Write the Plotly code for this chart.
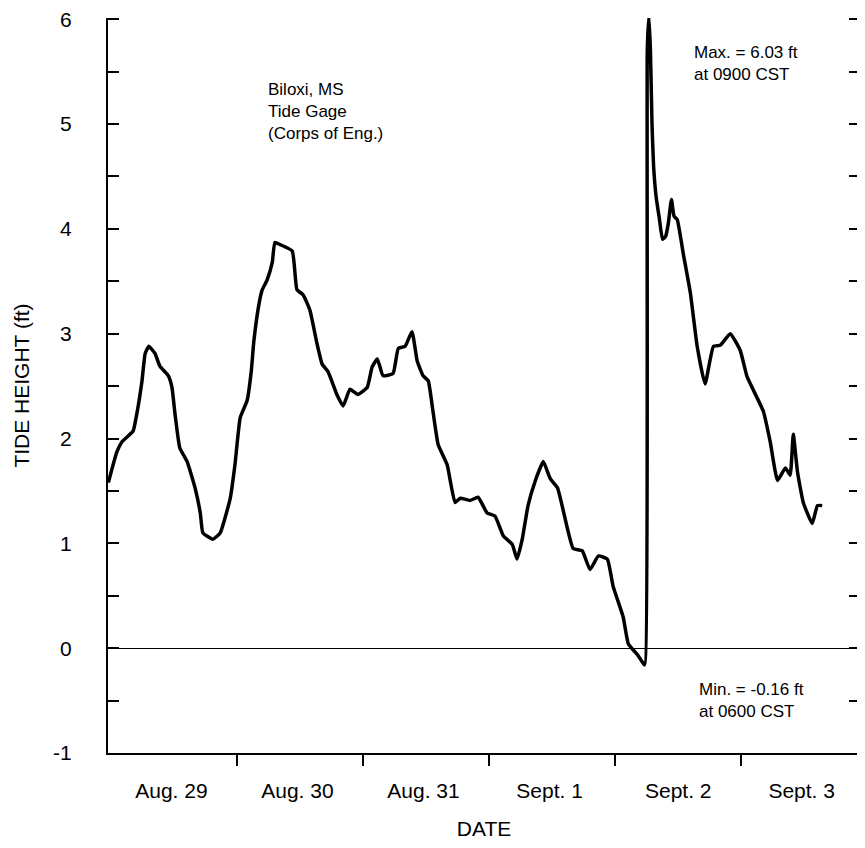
import plotly.graph_objects as go

# Hours since Aug. 29 00:00 CST
hours = [-0.5, 1.1, 2.1, 4.2, 5.0, 5.9, 6.5, 7.2, 8.4, 9.3, 10.9, 11.6, 12.2, 13.1, 14.5,
         16.0, 17.0, 17.5, 19.4, 20.8, 22.7, 23.6, 24.6, 25.9, 26.7, 27.2, 28.2, 28.8, 29.7,
         30.7, 31.2, 32.2, 34.5, 35.4, 36.6, 37.9, 39.2, 40.2, 41.3, 43.0, 44.2, 45.5, 47.0,
         48.8, 49.7, 50.7, 51.8, 53.7, 54.7, 56.0, 57.3, 58.3, 59.4, 60.4, 61.3, 62.3, 64.0,
         65.5, 66.5, 68.4, 69.9, 71.6, 73.1, 74.7, 76.4, 77.3, 78.3, 79.4, 80.8, 82.3, 83.6,
         85.0, 86.9, 88.0, 89.7, 91.2, 92.8, 94.5, 95.6, 97.5, 98.5, 100.2, 101.0, 101.6,
         102.1, 102.4, 102.7, 103.0, 103.3, 103.8, 104.4, 105.0, 105.6, 106.1, 106.7, 107.2,
         107.8, 109.0, 110.3, 111.6, 113.1, 114.7, 116.0, 117.9, 119.8, 121.1, 124.2, 125.5,
         126.9, 128.4, 129.3, 129.9, 130.7, 131.8, 133.5, 134.5, 135.4]

tide_ft = [1.58, 1.87, 1.97, 2.07, 2.26, 2.55, 2.81, 2.88, 2.81, 2.69, 2.60, 2.49, 2.23, 1.91,
           1.78, 1.53, 1.29, 1.10, 1.04, 1.10, 1.43, 1.75, 2.20, 2.36, 2.64, 2.93, 3.29, 3.42,
           3.51, 3.68, 3.87, 3.85, 3.79, 3.42, 3.37, 3.22, 2.91, 2.71, 2.64, 2.42, 2.31, 2.47,
           2.42, 2.49, 2.68, 2.76, 2.60, 2.62, 2.86, 2.88, 3.02, 2.74, 2.60, 2.55, 2.26, 1.94,
           1.75, 1.39, 1.43, 1.41, 1.44, 1.29, 1.26, 1.07, 0.99, 0.85, 1.04, 1.36, 1.60, 1.78,
           1.62, 1.53, 1.14, 0.95, 0.93, 0.75, 0.88, 0.85, 0.59, 0.30, 0.04, -0.06, -0.12,
           -0.16, 5.70, 6.03, 5.70, 5.00, 4.60, 4.30, 4.10, 3.90, 3.93, 4.05, 4.28, 4.12, 4.09,
           3.75, 3.39, 2.88, 2.52, 2.88, 2.89, 3.00, 2.84, 2.59, 2.26, 1.97, 1.60, 1.72, 1.65,
           2.04, 1.68, 1.39, 1.19, 1.36, 1.36]

day_ticks = [24, 48, 72, 96, 120]
day_label_pos = [11.5, 35.5, 59.5, 83.5, 108.0, 131.5]
day_labels = ["Aug. 29", "Aug. 30", "Aug. 31", "Sept. 1", "Sept. 2", "Sept. 3"]
y_ticks = [-1, 0, 1, 2, 3, 4, 5, 6]
y_tick_labels = ["-1", "0", "1", "2", "3", "4", "5", "6"]

FONT = "Liberation Sans, Arial, sans-serif"
x_range = [-0.57, 142.6]
y_range = [-1, 6.012]

fig = go.Figure()
fig.add_trace(go.Scatter(x=hours, y=tide_ft, mode="lines",
                         line=dict(color="black", width=3.5, shape="spline", smoothing=0.4),
                         showlegend=False, hoverinfo="skip"))
fig.add_trace(go.Scatter(x=day_label_pos, y=[None] * len(day_label_pos), xaxis="x2",
                         yaxis="y2", mode="lines", showlegend=False, hoverinfo="skip"))

axis_ticks = dict(ticks="inside", ticklen=11, tickwidth=1.5, tickcolor="black",
                  minor=dict(dtick=0.5, tick0=0, ticks="inside", ticklen=11,
                             tickwidth=1.5, tickcolor="black"))

# The page body adds an 8px offset; the figure size/margins compensate for it.
fig.update_layout(
    width=857, height=832,
    margin=dict(l=100, r=5, t=10, b=87, autoexpand=False),
    paper_bgcolor="white", plot_bgcolor="white",
    font=dict(family=FONT, color="black", size=21),
    xaxis=dict(range=x_range, showline=True, linecolor="black", linewidth=2,
               tickmode="array", tickvals=day_ticks, ticks="outside", ticklen=11,
               tickwidth=1.5, tickcolor="black", showticklabels=False,
               showgrid=False, zeroline=False, automargin=False),
    xaxis2=dict(range=x_range, overlaying="x", side="bottom", showline=False,
                tickmode="array", tickvals=day_label_pos, ticktext=day_labels,
                ticks="", ticklabelstandoff=23, showgrid=False, zeroline=False,
                tickfont=dict(size=21), automargin=False,
                title=dict(text="DATE", standoff=26, font=dict(size=21))),
    yaxis=dict(range=y_range, showline=True, linecolor="black", linewidth=2,
               tickmode="array", tickvals=y_ticks, ticktext=y_tick_labels,
               ticklabelstandoff=30, tickfont=dict(size=21), automargin=False,
               ticklabeloverflow="allow",
               showgrid=False, zeroline=True, zerolinecolor="black", zerolinewidth=1.3,
               title=dict(text="TIDE HEIGHT (ft)", standoff=18, font=dict(size=21)),
               **axis_ticks),
    yaxis2=dict(range=y_range, overlaying="y", side="right", showline=True,
                linecolor="black", linewidth=2, tickmode="array", tickvals=y_ticks,
                showticklabels=False, automargin=False, showgrid=False, zeroline=False,
                **axis_ticks),
)

fig.add_annotation(x=0.2106, y=5.12, xref="x domain", yref="y", xanchor="left", yanchor="middle",
                   text="Biloxi, MS<br>Tide Gage<br>(Corps of Eng.)", showarrow=False,
                   align="left", font=dict(size=17, family=FONT))
fig.add_annotation(x=0.777, y=5.58, xref="x domain", yref="y", xanchor="left", yanchor="middle",
                   text="Max. = 6.03 ft<br>at 0900 CST", showarrow=False,
                   align="left", font=dict(size=17, family=FONT))
fig.add_annotation(x=0.783, y=-0.50, xref="x domain", yref="y", xanchor="left", yanchor="middle",
                   text="Min. = -0.16 ft<br>at 0600 CST", showarrow=False,
                   align="left", font=dict(size=17, family=FONT))

fig.write_html("out.html")
